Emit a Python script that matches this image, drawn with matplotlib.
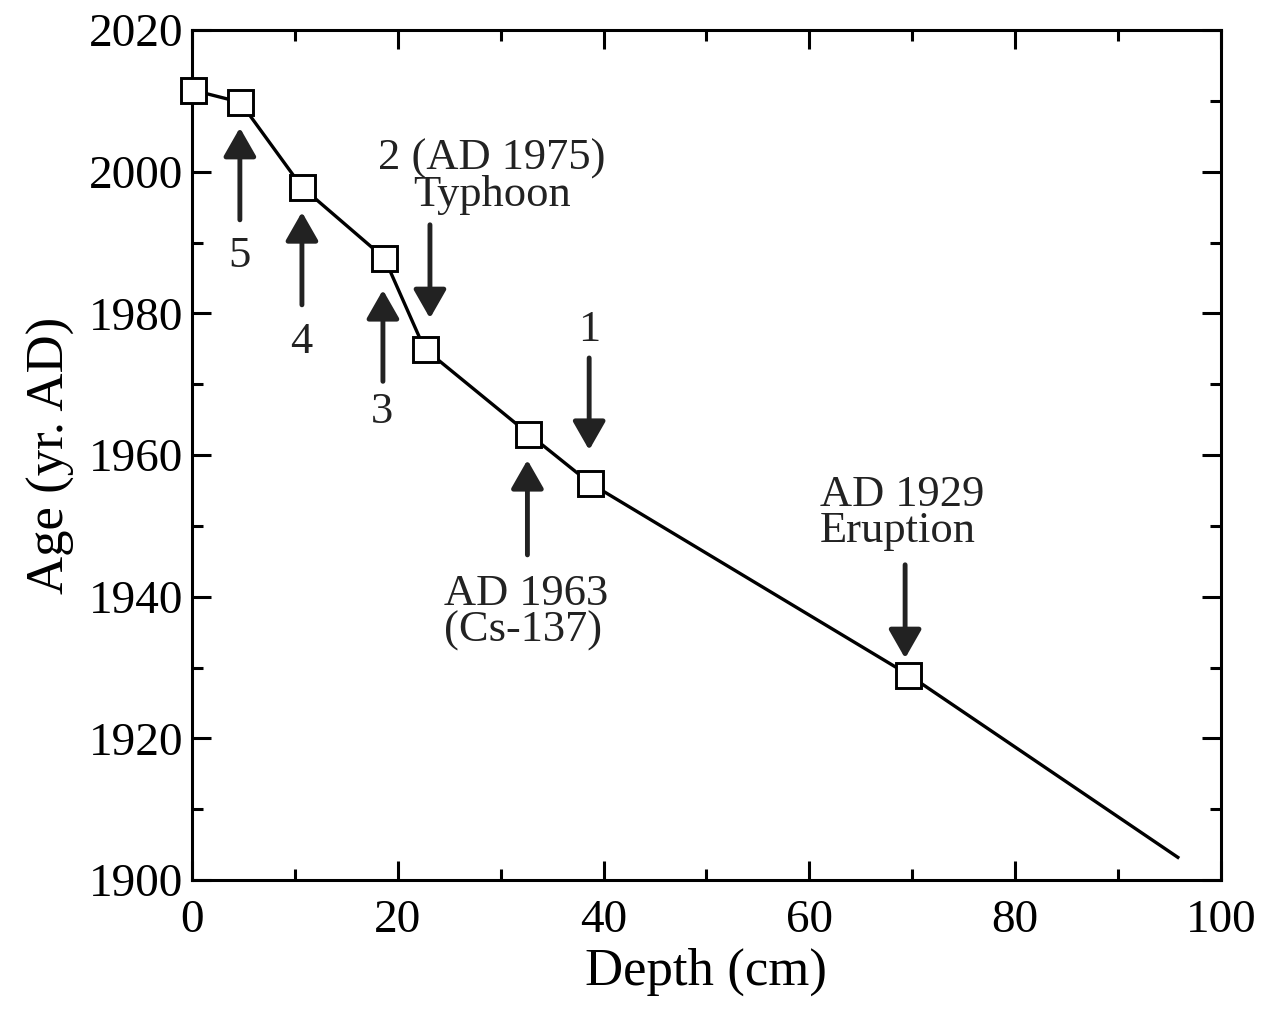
import matplotlib
matplotlib.use("Agg")
import matplotlib.pyplot as plt
from matplotlib.ticker import MultipleLocator

depth = [0.1, 4.7, 10.7, 18.7, 22.6, 32.7, 38.7, 69.6, 95.8]
age = [2011.5, 2009.8, 1997.8, 1987.8, 1975.0, 1963.0, 1956.0, 1929.0, 1903.2]

plt.rcParams['font.family'] = ['Liberation Serif', 'DejaVu Serif']

fig = plt.figure(figsize=(12.71, 10.10), dpi=100)
ax = fig.add_axes([0.151, 0.1287, 0.8097, 0.8416])

ax.plot(depth, age, color='black', lw=2.4, zorder=2)
ax.plot(depth[:-1], age[:-1], ls='none', marker='s', ms=18, mfc='white', mec='black', mew=2.1, zorder=3, clip_on=False)

ax.set_xlim(0, 100)
ax.set_ylim(1900, 2020)
ax.xaxis.set_major_locator(MultipleLocator(20))
ax.xaxis.set_minor_locator(MultipleLocator(10))
ax.yaxis.set_major_locator(MultipleLocator(20))
ax.yaxis.set_minor_locator(MultipleLocator(10))
ax.tick_params(which='both', direction='in', top=True, right=True, width=2.2, labelsize=34)
ax.tick_params(axis='x', pad=14)
ax.tick_params(axis='y', pad=6)
ax.tick_params(which='major', length=14)
ax.tick_params(which='minor', length=8)
for s in ax.spines.values():
    s.set_linewidth(2.2)

ax.set_xlabel('Depth (cm)', fontsize=38, labelpad=4)
ax.set_ylabel('Age (yr. AD)', fontsize=38, labelpad=10)

ap = dict(arrowstyle='-|>,head_length=1.75,head_width=1.0', color='#222222', lw=3.5, shrinkA=0, shrinkB=0)
fs = 32
arrows = [
    (4.66, 1993.2, 2006.2),
    (10.69, 1981.2, 1994.3),
    (18.56, 1970.4, 1983.3),
    (23.13, 1992.5, 1979.3),
    (38.6, 1973.7, 1960.7),
    (32.6, 1945.9, 1959.3),
    (69.3, 1944.5, 1931.3),
]
for x, y0, y1 in arrows:
    ax.annotate('', xy=(x, y1), xytext=(x, y0), arrowprops=ap)

labels = [
    ('5', 4.66, 1988.1, 'center'),
    ('4', 10.6, 1976.0, 'center'),
    ('3', 18.5, 1966.1, 'center'),
    ('1', 38.6, 1977.6, 'center'),
    ('2 (AD 1975)\nTyphoon', 29.15, 1999.3, 'center'),
    ('AD 1963\n(Cs-137)', 24.5, 1937.8, 'left'),
    ('AD 1929\nEruption', 61.0, 1951.8, 'left'),
]
for t, x, y, ha in labels:
    ax.text(x, y, t, fontsize=fs, ha=ha, va='center', color='#222222', linespacing=0.88, multialignment=ha)

fig.savefig('out.png', dpi=100)
